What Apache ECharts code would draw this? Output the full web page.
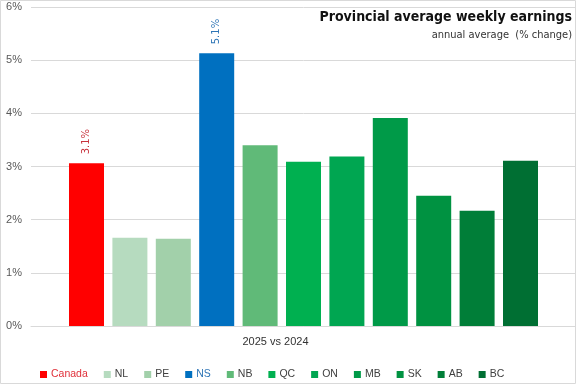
<!DOCTYPE html>
<html><head><meta charset="utf-8">
<script src="https://cdn.jsdelivr.net/npm/echarts@6/dist/echarts.min.js"></script>
<style>html,body{margin:0;padding:0;background:#fff}#c{width:576px;height:384px}</style>
</head><body><div id="c"></div>
<script>
const category = ['2025 vs 2024'];
const regions = ['Canada','NL','PE','NS','NB','QC','ON','MB','SK','AB','BC'];
const values = [3.06, 1.66, 1.64, 5.13, 3.40, 3.09, 3.19, 3.91, 2.45, 2.17, 3.11];
const colors = ['#ff0000','#b6dbbf','#a2d0aa','#0070c0','#60ba78','#00b050','#00a651','#009a48','#009241','#007e38','#006f33'];
const labelled = {Canada: '#c8323c', NS: '#2e75b6'};
const yTicks = [0,1,2,3,4,5,6];

const chart = echarts.init(document.getElementById('c'), null, {renderer:'canvas'});
const series = regions.map((r,i)=>({
  name: r, type: 'bar', data: [values[i]], barWidth: 35, barGap: '24%',
  itemStyle: {color: colors[i]},
  label: labelled[r] ? {show:true, position:'top', rotate:90, align:'left', verticalAlign:'middle', distance:9,
    color: labelled[r], fontFamily:'DejaVu Sans', fontSize:10,
    formatter: p => p.value.toFixed(1) + '%'} : {show:false}
}));
chart.setOption({
  animation:false,
  graphic:[{type:'rect', shape:{x:0.5,y:0.5,width:575,height:383}, style:{fill:'none', stroke:'#d9d9d9', lineWidth:1}, silent:true}],
  title:[
    {text:'Provincial average weekly earnings', right:4, top:10, padding:0,
     textStyle:{fontFamily:'DejaVu Sans Condensed', fontWeight:'bold', fontSize:14, color:'#111'}},
    {text:'annual average  (% change)', right:4, top:30, padding:0,
     textStyle:{fontFamily:'DejaVu Sans Condensed', fontWeight:'normal', fontSize:11, color:'#333'}}
  ],
  grid:{left:31, right:0, top:7, bottom:58},
  legend:{bottom:4, left:40, itemWidth:7, itemHeight:7, itemGap:16, icon:'rect', padding:0,
    textStyle:{fontFamily:'Liberation Sans', fontSize:10.5, color:'#404040', padding:[0,0,0,-1]},
    data: regions.map(r=>({name:r, textStyle: labelled[r] ? {color: r==='Canada' ? '#e0303a' : '#2e75b6'} : {}}))},
  xAxis:{type:'category', data:category, axisTick:{show:false}, axisLine:{lineStyle:{color:'#d9d9d9'}},
    axisLabel:{color:'#333', fontFamily:'Liberation Sans', fontSize:11, margin:10, padding:[0,56,0,0]}},
  yAxis:{type:'value', min:0, max:6, interval:1, axisLine:{show:false}, axisTick:{show:false},
    splitLine:{lineStyle:{color:'#d9d9d9'}},
    axisLabel:{color:'#595959', fontFamily:'Liberation Sans', fontSize:11, margin:9, formatter: v => v + '%'}},
  series
});
</script></body></html>
